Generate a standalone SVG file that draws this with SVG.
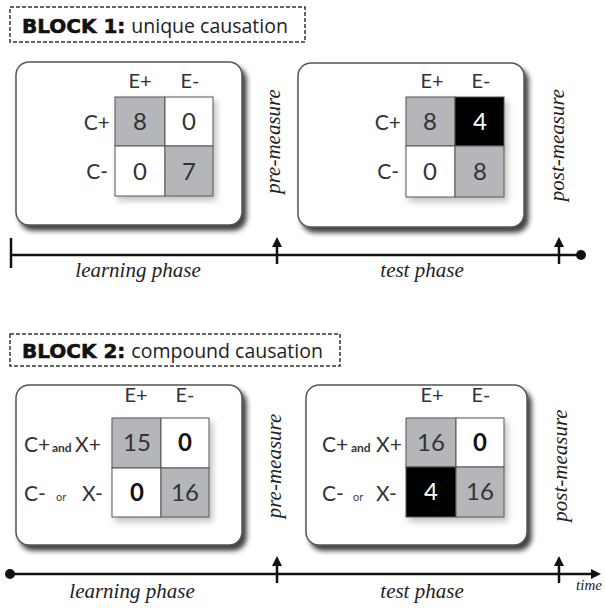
<svg xmlns="http://www.w3.org/2000/svg" width="605" height="608" viewBox="0 0 605 608">
<defs>
<filter id="boxShadow" x="-10%" y="-10%" width="130%" height="130%">
<feDropShadow dx="4" dy="5" stdDeviation="2.5" flood-color="#222" flood-opacity="0.85"/>
</filter>
<filter id="gridShadow" x="-10%" y="-10%" width="130%" height="130%">
<feDropShadow dx="3" dy="4" stdDeviation="3" flood-color="#000" flood-opacity="0.25"/>
</filter>
<marker id="tip" markerWidth="10" markerHeight="10" refX="1" refY="5" orient="auto" markerUnits="userSpaceOnUse">
<path d="M0,0 L10,5 L0,10 Z" fill="#111"/>
</marker>
</defs>
<style>
.title{font-family:"DejaVu Sans",sans-serif;font-weight:bold;font-size:20px;fill:#111;stroke:#111;stroke-width:0.6}
.sub{font-family:"Open Sans",sans-serif;font-size:19.5px;fill:#222}
.dash{fill:#fff;stroke:#333;stroke-width:1.5;stroke-dasharray:4 2}
.box{fill:#fff;stroke:#555;stroke-width:1.5}
.g{fill:#b4b6ba;stroke:#555;stroke-width:1}
.w{fill:#fff;stroke:#555;stroke-width:1}
.k{fill:#000;stroke:#555;stroke-width:1}
.num{font-family:Lato,sans-serif;font-size:24px;fill:#333;text-anchor:middle}
.numb{font-family:Lato,sans-serif;font-size:24px;font-weight:bold;fill:#111;text-anchor:middle}
.wn{fill:#fff}
.e{font-family:Lato,sans-serif;font-size:20px;fill:#333;text-anchor:middle}
.c{font-family:Lato,sans-serif;font-size:21px;fill:#333}
.and{font-family:Lato,sans-serif;font-size:12px;font-weight:bold;fill:#333}
.or{font-family:Lato,sans-serif;font-size:11px;fill:#444}
.it{font-family:"Liberation Serif","Times New Roman",serif;font-style:italic;font-size:21px;fill:#222}
.line{stroke:#111;stroke-width:2.5;fill:none}
</style>

<g id="block1-title">
<rect class="dash" x="10" y="7" width="295" height="35"/>
<text x="22" y="33"><tspan class="title">BLOCK 1:</tspan><tspan class="sub" dx="6">unique causation</tspan></text>
</g>

<g id="block1-learning">
<rect class="box" x="16" y="62" width="226" height="163" rx="13" filter="url(#boxShadow)"/>
<g filter="url(#gridShadow)">
<rect class="g" x="115" y="97" width="50" height="49"/>
<rect class="w" x="165" y="97" width="48" height="49"/>
<rect class="w" x="115" y="146" width="50" height="50"/>
<rect class="g" x="165" y="146" width="48" height="50"/>
</g>
<text class="e" x="140" y="88">E+</text>
<text class="e" x="190" y="88">E-</text>
<text class="c" x="110" y="130" text-anchor="end">C+</text>
<text class="c" x="108" y="179" text-anchor="end">C-</text>
<text class="num" x="140" y="130">8</text>
<text class="num" x="189" y="130">0</text>
<text class="num" x="140" y="180">0</text>
<text class="num" x="189" y="180">7</text>
</g>

<g id="block1-test">
<rect class="box" x="298" y="63" width="226" height="164" rx="13" filter="url(#boxShadow)"/>
<g filter="url(#gridShadow)">
<rect class="g" x="406" y="97" width="49" height="49"/>
<rect class="k" x="455" y="97" width="49" height="49"/>
<rect class="w" x="406" y="146" width="49" height="51"/>
<rect class="g" x="455" y="146" width="49" height="51"/>
</g>
<text class="e" x="432" y="88">E+</text>
<text class="e" x="481" y="88">E-</text>
<text class="c" x="401" y="130" text-anchor="end">C+</text>
<text class="c" x="399" y="179" text-anchor="end">C-</text>
<text class="num" x="430" y="130">8</text>
<text class="num wn" x="480" y="130">4</text>
<text class="num" x="430" y="180">0</text>
<text class="num" x="480" y="180">8</text>
</g>

<g id="block1-pre-measure">
<text class="it" transform="translate(280,141.5) rotate(-90)" text-anchor="middle">pre-measure</text>
</g>
<g id="block1-post-measure">
<text class="it" transform="translate(564,145) rotate(-90)" text-anchor="middle">post-measure</text>
</g>

<g id="block1-timeline">
<line class="line" x1="11" y1="255" x2="581" y2="255"/>
<line class="line" x1="11" y1="238" x2="11" y2="268"/>
<circle cx="581" cy="255" r="5" fill="#111"/>
<text class="it" x="138" y="277" text-anchor="middle">learning phase</text>
<text class="it" x="422" y="277" text-anchor="middle">test phase</text>
</g>

<g id="block2-title">
<rect class="dash" x="10" y="334" width="330" height="32"/>
<text x="22" y="358"><tspan class="title">BLOCK 2:</tspan><tspan class="sub" dx="6">compound causation</tspan></text>
</g>

<g id="block2-learning">
<rect class="box" x="16" y="385" width="226" height="160" rx="13" filter="url(#boxShadow)"/>
<g filter="url(#gridShadow)">
<rect class="g" x="112" y="418" width="49" height="50"/>
<rect class="w" x="161" y="418" width="48" height="50"/>
<rect class="w" x="112" y="468" width="49" height="49"/>
<rect class="g" x="161" y="468" width="48" height="49"/>
</g>
<text class="e" x="136" y="402">E+</text>
<text class="e" x="185" y="402">E-</text>
<text class="c" x="24" y="452">C+</text>
<text class="and" x="52" y="452">and</text>
<text class="c" x="75" y="452">X+</text>
<text class="c" x="24" y="501">C-</text>
<text class="or" x="56" y="501">or</text>
<text class="c" x="82" y="501">X-</text>
<text class="num" x="137" y="451">15</text>
<text class="numb" x="185" y="451">0</text>
<text class="numb" x="137" y="501">0</text>
<text class="num" x="185" y="501">16</text>
</g>

<g id="block2-test">
<rect class="box" x="306" y="385" width="221" height="160" rx="13" filter="url(#boxShadow)"/>
<g filter="url(#gridShadow)">
<rect class="g" x="406" y="418" width="50" height="49"/>
<rect class="w" x="456" y="418" width="48" height="49"/>
<rect class="k" x="406" y="467" width="50" height="50"/>
<rect class="g" x="456" y="467" width="48" height="50"/>
</g>
<text class="e" x="432" y="402">E+</text>
<text class="e" x="481" y="402">E-</text>
<text class="c" x="322" y="452">C+</text>
<text class="and" x="351" y="452">and</text>
<text class="c" x="376" y="452">X+</text>
<text class="c" x="322" y="501">C-</text>
<text class="or" x="353" y="501">or</text>
<text class="c" x="376" y="501">X-</text>
<text class="num" x="431" y="451">16</text>
<text class="numb" x="480" y="451">0</text>
<text class="num wn" x="431" y="500">4</text>
<text class="num" x="480" y="500">16</text>
</g>

<g id="block2-pre-measure">
<text class="it" transform="translate(281,466) rotate(-90)" text-anchor="middle">pre-measure</text>
</g>
<g id="block2-post-measure">
<text class="it" transform="translate(567,465.5) rotate(-90)" text-anchor="middle">post-measure</text>
</g>

<g id="block2-timeline">
<line class="line" x1="10" y1="574" x2="592" y2="574" marker-end="url(#tip)"/>
<circle cx="10" cy="574" r="5" fill="#111"/>
<text class="it" x="132" y="598" text-anchor="middle">learning phase</text>
<text class="it" x="422" y="598" text-anchor="middle">test phase</text>
<text class="it" x="589" y="590" text-anchor="middle" style="font-size:15px">time</text>
</g>

<g id="connectors">
<line class="line" x1="277" y1="264" x2="277" y2="246" marker-end="url(#tip)"/>
<line class="line" x1="559" y1="264" x2="559" y2="246" marker-end="url(#tip)"/>
<line class="line" x1="277" y1="583" x2="277" y2="565" marker-end="url(#tip)"/>
<line class="line" x1="559" y1="583" x2="559" y2="565" marker-end="url(#tip)"/>
</g>
</svg>
